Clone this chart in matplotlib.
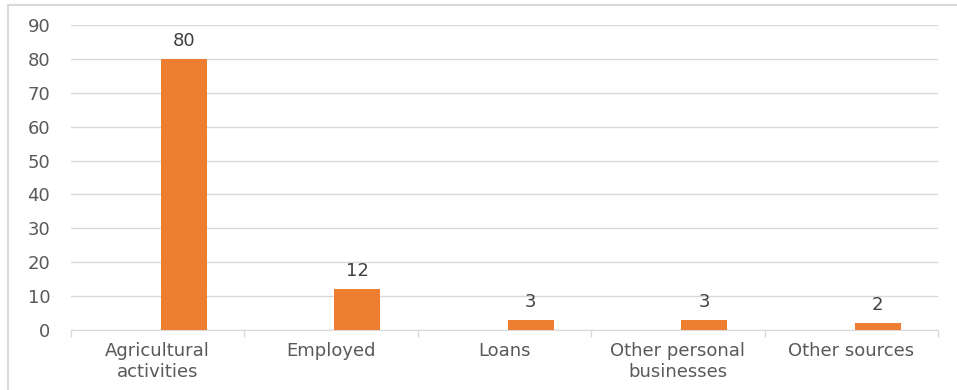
import matplotlib.pyplot as plt
import numpy as np
from matplotlib.patches import Rectangle

categories = ["Agricultural\nactivities", "Employed", "Loans",
              "Other personal\nbusinesses", "Other sources"]
values = [80, 12, 3, 3, 2]

plt.rcParams['font.family'] = ['DejaVu Sans']
txt = "#595959"
grid = "#D9D9D9"

fig = plt.figure(figsize=(9.57, 3.9), dpi=100)
ax = fig.add_axes([71 / 957, 1 - 330 / 390, (938 - 71) / 957, (330 - 25) / 390])

x = np.arange(len(categories))
bars = ax.bar(x + 0.152, values, width=0.265, color="#ED7D31", zorder=3)
for b, v in zip(bars, values):
    ax.text(b.get_x() + b.get_width() / 2, v + 5.3, str(v), ha="center",
            va="center", fontsize=13, color="#404040")

ax.set_xlim(-0.5, len(categories) - 0.5)
ax.set_ylim(0, 90)
ax.set_yticks(range(0, 91, 10))
ax.set_xticks(x)
ax.set_xticklabels(categories, fontsize=13, color=txt, linespacing=1.15)
ax.set_xticks(np.arange(-0.5, len(categories), 1), minor=True)
ax.tick_params(axis="x", which="major", length=0, pad=9)
ax.tick_params(axis="x", which="minor", length=5, color=grid, width=1)
ax.tick_params(axis="y", length=0, labelsize=13, labelcolor=txt, pad=15)
ax.yaxis.grid(True, color=grid, linewidth=1, zorder=0)
for s in ["top", "right", "left"]:
    ax.spines[s].set_visible(False)
ax.spines["bottom"].set_color(grid)

fig.patches.append(Rectangle((8 / 957, -0.1), 1.2, 1 - 5 / 390 + 0.1,
                             transform=fig.transFigure, fill=False,
                             edgecolor="#D9D9D9", linewidth=1.5))

fig.savefig("out.png", dpi=100)
